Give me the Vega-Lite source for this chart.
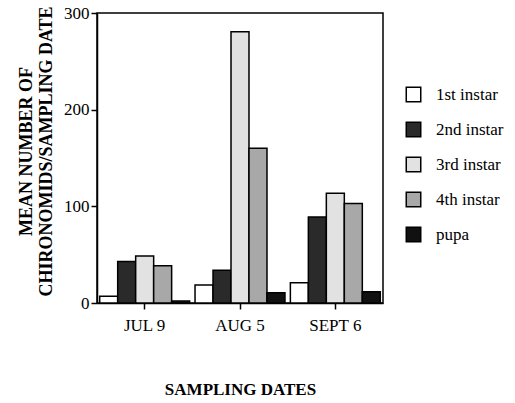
{
  "$schema": "https://vega.github.io/schema/vega-lite/v6.json",
  "autosize": "none",
  "width": 286,
  "height": 290,
  "padding": {"left": 97, "top": 13, "right": 132, "bottom": 100},
  "background": "white",
  "config": {
    "font": "Liberation Serif",
    "view": {"stroke": "black", "strokeWidth": 1.5}
  },
  "data": {
    "values": [
      {"date": "JUL 9", "stage": "1st instar", "mean": 7},
      {"date": "JUL 9", "stage": "2nd instar", "mean": 43},
      {"date": "JUL 9", "stage": "3rd instar", "mean": 48.6},
      {"date": "JUL 9", "stage": "4th instar", "mean": 38.6},
      {"date": "JUL 9", "stage": "pupa", "mean": 2},
      {"date": "AUG 5", "stage": "1st instar", "mean": 18.6},
      {"date": "AUG 5", "stage": "2nd instar", "mean": 34},
      {"date": "AUG 5", "stage": "3rd instar", "mean": 280.7},
      {"date": "AUG 5", "stage": "4th instar", "mean": 160},
      {"date": "AUG 5", "stage": "pupa", "mean": 10.7},
      {"date": "SEPT 6", "stage": "1st instar", "mean": 21},
      {"date": "SEPT 6", "stage": "2nd instar", "mean": 89},
      {"date": "SEPT 6", "stage": "3rd instar", "mean": 113.5},
      {"date": "SEPT 6", "stage": "4th instar", "mean": 103},
      {"date": "SEPT 6", "stage": "pupa", "mean": 11.7}
    ]
  },
  "mark": {"type": "bar", "stroke": "black", "strokeWidth": 1.5},
  "encoding": {
    "x": {
      "field": "date", "type": "nominal", "sort": ["JUL 9", "AUG 5", "SEPT 6"],
      "scale": {"paddingInner": 0, "paddingOuter": 0},
      "axis": {
        "title": "SAMPLING  DATES", "titleFont": "Liberation Serif", "titleFontWeight": "bold",
        "titleFontSize": 17, "titleColor": "black", "titlePadding": 48,
        "labelAngle": 0, "labelFont": "Liberation Serif", "labelFontSize": 17,
        "labelColor": "black", "labelPadding": 8,
        "tickColor": "black", "tickSize": 6, "tickWidth": 1.5,
        "domainColor": "black", "domainWidth": 1.5
      }
    },
    "xOffset": {
      "field": "stage", "type": "nominal",
      "scale": {"paddingInner": 0, "paddingOuter": 0.15}
    },
    "y": {
      "field": "mean", "type": "quantitative",
      "scale": {"domain": [0, 300], "nice": false},
      "axis": {
        "title": ["MEAN NUMBER OF", "CHIRONOMIDS/SAMPLING  DATE"],
        "titleFont": "Liberation Serif", "titleFontWeight": "bold", "titleFontSize": 18,
        "titleColor": "black", "titleLineHeight": 20, "titlePadding": 8, "titleY": 138,
        "values": [0, 100, 200, 300], "grid": false,
        "labelFont": "Liberation Serif", "labelFontSize": 17, "labelColor": "black", "labelPadding": 2,
        "tickColor": "black", "tickSize": 6, "tickWidth": 1.5,
        "domainColor": "black", "domainWidth": 1.5
      }
    },
    "fill": {
      "field": "stage", "type": "nominal",
      "scale": {
        "domain": ["1st instar", "2nd instar", "3rd instar", "4th instar", "pupa"],
        "range": ["#ffffff", "#2a2a2a", "#e2e2e2", "#a8a8a8", "#111111"]
      },
      "legend": {
        "title": null, "orient": "none", "legendX": 308, "legendY": 73,
        "symbolType": "square", "symbolSize": 210, "symbolStrokeColor": "black",
        "symbolStrokeWidth": 1.5, "symbolOpacity": 1,
        "labelFont": "Liberation Serif", "labelFontSize": 17, "labelColor": "black",
        "labelOffset": 14, "rowPadding": 14
      }
    }
  }
}
